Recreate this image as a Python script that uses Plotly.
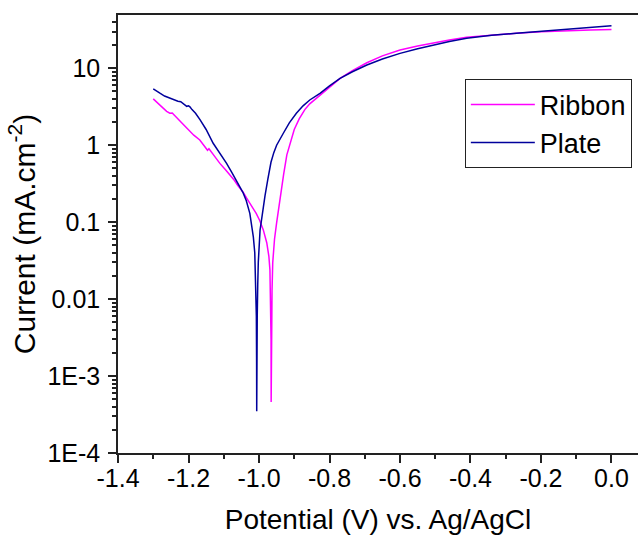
import plotly.graph_objects as go

# ---- data ----
ribbon_x = [-1.300, -1.290, -1.280, -1.270, -1.262, -1.253, -1.246, -1.240, -1.230, -1.218,
            -1.206, -1.195, -1.185, -1.168, -1.155, -1.146, -1.142, -1.138, -1.130, -1.120,
            -1.111, -1.095, -1.082, -1.070, -1.060, -1.045, -1.035, -1.020, -1.008, -0.998,
            -0.988, -0.978, -0.972, -0.969, -0.967, -0.9658, -0.9655, -0.9650, -0.9640, -0.963,
            -0.961, -0.956, -0.950, -0.940, -0.930, -0.921, -0.910, -0.900, -0.886, -0.870,
            -0.856, -0.841, -0.827, -0.808, -0.790, -0.770, -0.735, -0.694, -0.650, -0.600, -0.550,
            -0.505, -0.460, -0.411, -0.340, -0.270, -0.200, -0.128, -0.060, 0.000]
ribbon_y = [4.0, 3.6, 3.25, 2.95, 2.75, 2.6, 2.62, 2.45, 2.2, 1.92,
            1.66, 1.48, 1.35, 1.17, 0.98, 0.86, 0.90, 0.86, 0.76, 0.66,
            0.58, 0.48, 0.41, 0.35, 0.30, 0.245, 0.205, 0.16, 0.13, 0.105,
            0.08, 0.054, 0.036, 0.024, 0.011, 0.003, 0.00046, 0.003, 0.008, 0.013,
            0.03, 0.06, 0.098, 0.21, 0.42, 0.75, 1.15, 1.6, 2.2, 2.9,
            3.45, 3.95, 4.5, 5.3, 6.3, 7.4, 9.3, 11.8, 14.5, 17.3, 19.5,
            21.4, 23.3, 25.2, 27.0, 28.5, 29.7, 30.8, 31.5, 32.0]

plate_x = [-1.300, -1.290, -1.280, -1.268, -1.253, -1.240, -1.230, -1.222, -1.212, -1.205,
           -1.200, -1.196, -1.190, -1.180, -1.167, -1.150, -1.130, -1.110, -1.092, -1.078,
           -1.064, -1.052, -1.045, -1.036, -1.026, -1.020, -1.016, -1.012, -1.009, -1.0075,
           -1.0068, -1.0065, -1.0060, -1.0050, -1.0035, -1.002, -0.997, -0.990, -0.983, -0.975,
           -0.966, -0.958, -0.950, -0.931, -0.914, -0.894, -0.875, -0.856, -0.840, -0.827, -0.800,
           -0.770, -0.735, -0.694, -0.650, -0.600, -0.550, -0.505, -0.460, -0.411, -0.340,
           -0.270, -0.200, -0.128, -0.060, 0.000]
plate_y = [5.4, 5.0, 4.7, 4.35, 4.07, 3.85, 3.72, 3.68, 3.4, 3.2,
           3.25, 3.15, 2.9, 2.6, 2.13, 1.6, 1.06, 0.78, 0.58, 0.45,
           0.34, 0.28, 0.24, 0.19, 0.13, 0.085, 0.064, 0.04, 0.016, 0.006,
           0.0015, 0.00035, 0.0015, 0.006, 0.016, 0.03, 0.079, 0.14, 0.22, 0.36,
           0.60, 0.80, 1.0, 1.43, 1.95, 2.6, 3.25, 3.87, 4.3, 4.73, 5.9,
           7.4, 9.0, 11.0, 13.2, 15.6, 17.9, 20.0, 22.3, 24.5, 26.8,
           28.5, 30.3, 32.0, 34.0, 35.7]

y_tickvals = [1e-4, 1e-3, 0.01, 0.1, 1, 10]
y_ticktext = ["1E-4", "1E-3", "0.01", "0.1", "1", "10"]
x_tickvals = [-1.4, -1.2, -1.0, -0.8, -0.6, -0.4, -0.2, 0.0]
x_ticktext = ["-1.4", "-1.2", "-1.0", "-0.8", "-0.6", "-0.4", "-0.2", "0.0"]

FONT = "Liberation Sans, Arial, sans-serif"
AX = "#222222"

fig = go.Figure()
fig.add_trace(go.Scatter(x=ribbon_x, y=ribbon_y, mode="lines", name="Ribbon",
                         line=dict(color="#FF00FF", width=1.5)))
fig.add_trace(go.Scatter(x=plate_x, y=plate_y, mode="lines", name="Plate",
                         line=dict(color="#00009C", width=1.5)))

fig.update_layout(
    width=638, height=536,
    margin=dict(l=118, r=0, t=15, b=83),
    paper_bgcolor="white", plot_bgcolor="white",
    font=dict(family=FONT, color="black"),
    showlegend=True,
    legend=dict(x=0.667, y=0.853, xanchor="left", yanchor="top",
                bgcolor="white", bordercolor="#222222", borderwidth=1,
                font=dict(size=27, family=FONT, color="black"),
                itemwidth=64, tracegroupgap=0),
)
fig.update_xaxes(
    range=[-1.4, 0.0752], showgrid=False, zeroline=False,
    showline=True, linecolor=AX, linewidth=1.5, mirror=True,
    ticks="outside", ticklen=8, tickwidth=1.5, tickcolor=AX,
    tickvals=x_tickvals, ticktext=x_ticktext, ticklabelstandoff=-6,
    tickfont=dict(size=25, family=FONT, color="black"),
    minor=dict(ticks="outside", ticklen=4, tickwidth=1.5, tickcolor=AX, dtick=0.1, tick0=-1.4, showgrid=False),
    title=dict(text="Potential (V) vs. Ag/AgCl", font=dict(size=28, family=FONT, color="black"), standoff=19),
)
fig.update_yaxes(
    type="log", range=[-4, 1.692], showgrid=False, zeroline=False,
    showline=True, linecolor=AX, linewidth=1.5, mirror=False,
    ticks="outside", ticklen=8, tickwidth=1.5, tickcolor=AX,
    tickvals=y_tickvals, ticktext=y_ticktext, ticklabelstandoff=3,
    tickfont=dict(size=25, family=FONT, color="black"),
    minor=dict(ticks="outside", ticklen=4, tickwidth=1.5, tickcolor=AX, dtick="D1", showgrid=False),
    title=dict(text="Current (mA.cm<sup>-2</sup>)", font=dict(size=30, family=FONT, color="black"), standoff=3),
)

fig.write_html("out.html")
